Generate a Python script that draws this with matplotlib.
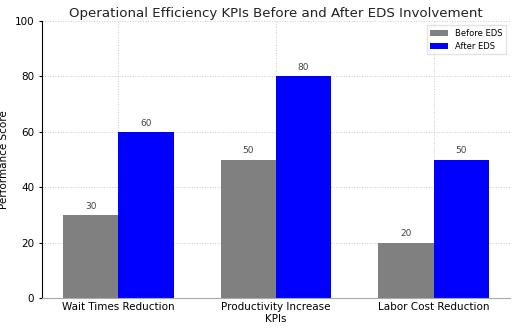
import matplotlib.pyplot as plt
import numpy as np

kpis = ["Wait Times Reduction", "Productivity Increase", "Labor Cost Reduction"]
before_eds = [30, 50, 20]
after_eds = [60, 80, 50]

fig = plt.figure(figsize=(5.12, 3.30), dpi=100)
ax = fig.add_axes([0.082, 0.097, 0.914, 0.839])

x = np.arange(len(kpis))
width = 0.35
b1 = ax.bar(x - width / 2, before_eds, width, color="grey", label="Before EDS")
b2 = ax.bar(x + width / 2, after_eds, width, color="blue", label="After EDS")

for bars in (b1, b2):
    for rect in bars:
        h = rect.get_height()
        ax.annotate(f"{h:.0f}", xy=(rect.get_x() + rect.get_width() / 2, h),
                    xytext=(0, 3), textcoords="offset points",
                    ha="center", va="bottom", fontsize=6.5, color="#444444")

ax.set_ylim(0, 100)
ax.set_xticks(x)
ax.set_xticklabels(kpis, fontsize=7.5)
ax.tick_params(axis="y", labelsize=7.5, length=2)
ax.tick_params(axis="x", length=0, pad=3)
ax.set_xlabel("KPIs", fontsize=7.5, labelpad=1)
ax.set_ylabel("Performance Score", fontsize=7.5)
ax.set_title("Operational Efficiency KPIs Before and After EDS Involvement",
             fontsize=9.6, pad=3, color="#222222")
ax.grid(True, linestyle=":", color="#cccccc", linewidth=0.7)
ax.set_axisbelow(True)
for s in ("top", "right"):
    ax.spines[s].set_visible(False)
ax.spines["left"].set_color("black")
ax.spines["bottom"].set_color("#aaaaaa")
ax.legend(loc="upper right", fontsize=6, frameon=True, fancybox=False,
          edgecolor="#dddddd", handlelength=2.2)

fig.savefig("out.png", dpi=100)
